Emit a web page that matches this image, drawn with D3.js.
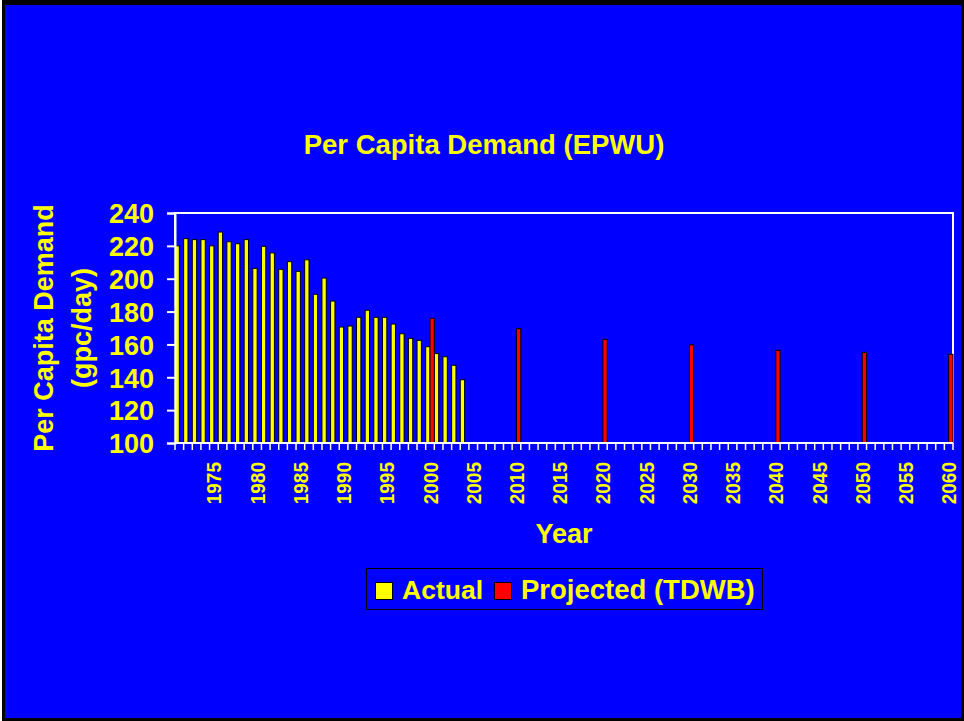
<!DOCTYPE html>
<html>
    <head>
        <title>Per Capita Demand (EPWU)</title>
        <style>
            html, body { margin: 0; padding: 0; background: #fff; }
            text { font-family: "Liberation Sans", Arial, sans-serif; font-weight: bold; fill: #ffff00; }
        </style>
        <script src="https://d3js.org/d3.v7.min.js"></script>
    </head>
    <body>
        <div id="chart"></div>
        <script type="text/javascript">
            // years shown on the category axis
            var years = d3.range(1971, 2061);
            var seriesNames = ["Actual", "Projected (TDWB)"];
            var seriesColors = ["#ffff00", "#ff0000"];

            var actualYears = d3.range(1971, 2005);
            var actualValues = [220, 224.4, 223.8, 223.8, 220, 228.4, 222.5, 221.3, 223.8, 206.3,
                                219.7, 215.7, 205.7, 210.4, 204.5, 211.5, 190.5, 200.4, 186.4, 170.6,
                                171.2, 176.5, 180.8, 176.5, 176.5, 172.4, 166.5, 163.7, 162.5, 158.6,
                                154.4, 152.5, 147.3, 138.5];
            var projectedYears = [2000, 2010, 2020, 2030, 2040, 2050, 2060];
            var projectedValues = [175.9, 169.6, 163.1, 159.8, 156.4, 155.2, 154.0];

            var yTicks = [100, 120, 140, 160, 180, 200, 220, 240];
            var xLabelYears = d3.range(1975, 2061, 5);

            var w = 964, h = 721;
            var plotLeft = 175, plotRight = 953, plotTop = 213, plotBottom = 443;

            var svg = d3.select("#chart").append("svg")
                .attr("width", w)
                .attr("height", h);

            // frame
            svg.append("rect").attr("x", 2).attr("y", 0).attr("width", 962).attr("height", 721).attr("fill", "#000");
            svg.append("rect").attr("x", 5).attr("y", 5).attr("width", 956).attr("height", 713).attr("fill", "#0000ff");

            var x = d3.scaleBand().domain(years).range([plotLeft, plotRight]).paddingInner(0).paddingOuter(0);
            var xs = d3.scaleBand().domain([0, 1]).range([0, x.bandwidth()]);
            var y = d3.scaleLinear().domain([100, 240]).range([plotBottom, plotTop]);

            // plot area border
            svg.append("rect")
                .attr("x", plotLeft).attr("y", plotTop)
                .attr("width", plotRight - plotLeft).attr("height", plotBottom - plotTop)
                .attr("fill", "none").attr("stroke", "#ffffff").attr("stroke-width", 2);

            var series = [
                actualYears.map((yr, i) => ({ year: yr, value: actualValues[i], s: 0 })),
                projectedYears.map((yr, i) => ({ year: yr, value: projectedValues[i], s: 1 }))
            ];

            series.forEach(function(data) {
                svg.selectAll(null)
                    .data(data)
                    .enter()
                    .append("rect")
                    .attr("x", d => x(d.year) + xs(d.s))
                    .attr("y", d => y(d.value))
                    .attr("width", xs.bandwidth())
                    .attr("height", d => y(100) - y(d.value))
                    .attr("fill", d => seriesColors[d.s])
                    .attr("stroke", "#000")
                    .attr("stroke-width", 1);
            });

            // y axis
            var yAxis = svg.append("g")
                .attr("transform", "translate(" + plotLeft + ",0)")
                .call(d3.axisLeft(y).tickValues(yTicks).tickSize(8).tickPadding(13).tickFormat(d3.format("d")));
            yAxis.selectAll("line, path").attr("stroke", "#ffffff").attr("stroke-width", 2);
            yAxis.selectAll("text").style("font-size", "27px").attr("fill", "#ffff00").attr("dy", "0.36em");

            // x axis: ticks between categories
            var xAxis = svg.append("g").attr("transform", "translate(0," + plotBottom + ")");
            xAxis.append("line")
                .attr("x1", plotLeft).attr("x2", plotRight)
                .attr("stroke", "#ffffff").attr("stroke-width", 2);
            xAxis.selectAll(".tick")
                .data(years.concat([2061]))
                .enter()
                .append("line")
                .attr("x1", d => d === 2061 ? plotRight : x(d))
                .attr("x2", d => d === 2061 ? plotRight : x(d))
                .attr("y1", 0).attr("y2", 7)
                .attr("stroke", "#ffffff").attr("stroke-width", 1.5);
            xAxis.selectAll(".lbl")
                .data(xLabelYears)
                .enter()
                .append("text")
                .attr("transform", d => "translate(" + (x(d) + x.bandwidth() / 2) + ",19) rotate(-90) scale(1,1.1)")
                .attr("text-anchor", "end")
                .attr("dy", "0.36em")
                .style("font-size", "19px")
                .text(d => d);

            // titles
            svg.append("text")
                .attr("x", 484).attr("y", 154)
                .attr("text-anchor", "middle")
                .style("font-size", "27.5px")
                .text("Per Capita Demand (EPWU)");
            svg.append("text")
                .attr("x", 564).attr("y", 543)
                .attr("text-anchor", "middle")
                .style("font-size", "27px")
                .text("Year");
            var yTitle = svg.append("g").attr("transform", "translate(0,328)");
            yTitle.append("text")
                .attr("transform", "translate(43,0) rotate(-90)")
                .attr("text-anchor", "middle").attr("dy", "0.36em")
                .style("font-size", "27px")
                .text("Per Capita Demand");
            yTitle.append("text")
                .attr("transform", "translate(81,0) rotate(-90)")
                .attr("text-anchor", "middle").attr("dy", "0.36em")
                .style("font-size", "27px")
                .text("(gpc/day)");

            // legend
            var legend = svg.append("g");
            legend.append("rect")
                .attr("x", 366.5).attr("y", 568.5).attr("width", 396).attr("height", 41)
                .attr("fill", "none").attr("stroke", "#000").attr("stroke-width", 1);
            var legendX = [375, 494];
            seriesNames.forEach(function(name, i) {
                legend.append("rect")
                    .attr("x", legendX[i] + 0.5).attr("y", 582.5).attr("width", 17).attr("height", 17)
                    .attr("fill", seriesColors[i]).attr("stroke", "#000").attr("stroke-width", 1);
                legend.append("text")
                    .attr("x", legendX[i] + 27).attr("y", 599)
                    .style("font-size", i === 0 ? "26.5px" : "27.5px")
                    .text(name);
            });
        </script>
    </body>
</html>
